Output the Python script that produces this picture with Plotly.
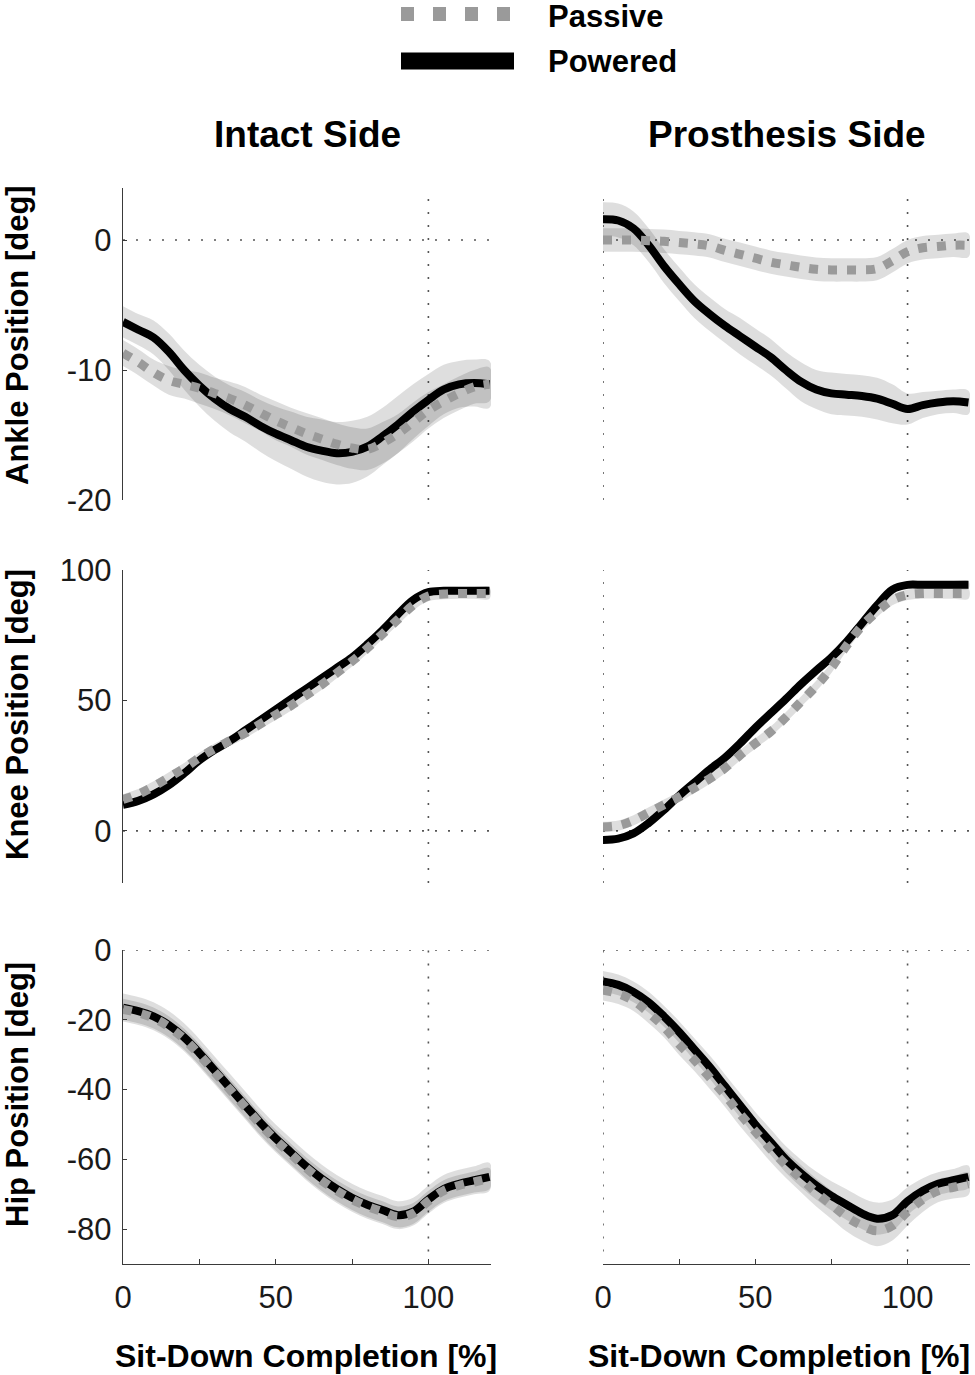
import plotly.graph_objects as go

W, H = 975, 1375

# ---------------- data ----------------
pct = [0, 5, 10, 15, 20, 25, 30, 35, 40, 45, 50, 55, 60, 65, 70, 75, 80, 85, 90, 95, 100, 105, 110, 115, 120]

ankle_intact_powered = [-6.3, -6.9, -7.5, -8.6, -10.0, -11.2, -12.2, -13.0, -13.6, -14.3, -14.9, -15.4, -15.9,
                        -16.2, -16.4, -16.3, -15.9, -15.1, -14.2, -13.2, -12.3, -11.5, -11.1, -11.0, -11.1]
ankle_intact_powered_sd = [1.2, 1.2, 1.3, 1.4, 1.5, 1.6, 1.7, 1.8, 1.9, 2.0, 2.1, 2.2, 2.3,
                           2.4, 2.4, 2.4, 2.3, 2.2, 2.2, 2.1, 2.0, 1.9, 1.8, 1.8, 1.8]
ankle_intact_passive = [-8.7, -9.4, -10.2, -10.8, -11.1, -11.4, -11.8, -12.2, -12.7, -13.3, -13.9, -14.4, -14.9,
                        -15.3, -15.7, -16.0, -16.1, -15.6, -14.9, -14.0, -13.1, -12.4, -11.8, -11.3, -11.1]
ankle_intact_passive_sd = [1.0, 1.0, 1.0, 1.1, 1.1, 1.2, 1.2, 1.3, 1.4, 1.4, 1.5, 1.5, 1.6,
                           1.6, 1.6, 1.6, 1.6, 1.6, 1.5, 1.5, 1.4, 1.3, 1.3, 1.3, 1.3]

ankle_pros_powered = [1.6, 1.5, 0.9, -0.4, -2.0, -3.4, -4.7, -5.7, -6.6, -7.4, -8.2, -9.0, -10.0,
                      -10.9, -11.5, -11.8, -11.9, -12.0, -12.2, -12.6, -13.0, -12.7, -12.5, -12.4, -12.5]
ankle_pros_powered_sd = [1.3, 1.3, 1.3, 1.3, 1.3, 1.3, 1.3, 1.3, 1.3, 1.4, 1.4, 1.4, 1.4,
                         1.5, 1.5, 1.6, 1.6, 1.6, 1.6, 1.5, 1.2, 1.0, 0.9, 0.9, 0.9]
ankle_pros_passive = [0.0, 0.0, 0.0, -0.05, -0.1, -0.2, -0.3, -0.45, -0.8, -1.1, -1.4, -1.7, -1.9,
                      -2.1, -2.25, -2.3, -2.3, -2.3, -2.2, -1.6, -0.9, -0.6, -0.5, -0.4, -0.4]
ankle_pros_passive_sd = [0.9] * 25

knee_intact_powered = [10, 11.5, 14, 17.5, 22, 27, 31, 34.5, 38.5, 42.5, 46.5, 50.5, 54.5,
                       58.5, 62.5, 66.5, 71.5, 77, 83, 88.5, 91.5, 92, 92, 92, 92]
knee_intact_powered_sd = [1.5] * 25
knee_intact_passive = [12, 14, 17, 20.5, 24, 28, 31.5, 34.5, 37.5, 41, 44.5, 48, 52,
                       56, 60.5, 65, 70, 75.5, 81, 86.5, 90, 90.8, 91, 91, 91]
knee_intact_passive_sd = [2.0] * 25

knee_pros_powered = [-3.5, -3, -1, 3, 8, 13.5, 18.5, 23.5, 28, 33.5, 39.5, 45, 50.5,
                     56.2, 61.5, 66.5, 72.5, 79.5, 86.5, 92.5, 94.3, 94.3, 94.3, 94.3, 94.3]
knee_pros_powered_sd = [1.5] * 25
knee_pros_passive = [1.5, 2, 4, 7, 10, 13, 16.5, 20, 24, 29, 33.5, 38, 43.5,
                     49.5, 55.5, 62.5, 71, 78.5, 84, 88.5, 90.5, 91, 91, 91, 91]
knee_pros_passive_sd = [2.0] * 25

hip_intact_powered = [-16.5, -17.5, -19, -21.5, -25, -29.5, -34.5, -39.5, -44.5, -49.5, -54, -58, -62,
                      -65.5, -68.5, -71, -73, -74.5, -76, -75, -71.5, -68.5, -67, -66, -65]
hip_intact_powered_sd = [4.0] * 25
hip_intact_passive = [-17, -18, -19.5, -22, -25.5, -30, -35, -40, -45, -50, -54.5, -58.5, -62.5,
                      -66, -69, -71.5, -73.5, -75, -76.5, -75.5, -72, -69, -67.5, -66.5, -65.5]
hip_intact_passive_sd = [3.0] * 25

hip_pros_powered = [-9, -10, -12, -15, -19, -23.5, -28.5, -33.5, -39, -44.5, -50, -55, -60,
                    -64, -67.5, -70.5, -73, -75.5, -77, -76, -72, -69, -67, -66, -65]
hip_pros_powered_sd = [3.0, 3.0, 3.0, 3.0, 3.0, 3.1, 3.2, 3.3, 3.4, 3.5, 3.6, 3.7, 3.8,
                       3.9, 4.0, 4.2, 4.4, 4.5, 4.6, 4.5, 4.0, 3.6, 3.3, 3.2, 3.2]
hip_pros_passive = [-11.5, -12.5, -14.5, -18, -22, -27, -31.5, -36.5, -41.5, -47, -52, -57, -61.5,
                    -65.5, -69.5, -73, -76.5, -79, -80.5, -79, -75, -71.5, -69, -68, -67]
hip_pros_passive_sd = [3.0, 3.0, 3.0, 3.0, 3.0, 3.1, 3.2, 3.3, 3.4, 3.5, 3.6, 3.7, 3.8,
                       3.9, 4.0, 4.1, 4.2, 4.3, 4.4, 4.3, 4.0, 3.6, 3.3, 3.2, 3.2]

column_titles = ["Intact Side", "Prosthesis Side"]
row_titles = ["Ankle Position [deg]", "Knee Position [deg]", "Hip Position [deg]"]
x_title = "Sit-Down Completion [%]"
legend_names = ["Passive", "Powered"]

x_ticks = [0, 25, 50, 75, 100]
x_ticktext = ["0", "", "50", "", "100"]
y_ticks = [[-20, -10, 0], [0, 50, 100], [-80, -60, -40, -20, 0]]
y_ticktext = [["-20", "-10", "0"], ["0", "50", "100"], ["-80", "-60", "-40", "-20", "0"]]
y_ranges = [[-20, 4], [-20, 100], [-90, 0]]

panels = [
    [(ankle_intact_passive, ankle_intact_passive_sd, ankle_intact_powered, ankle_intact_powered_sd),
     (ankle_pros_passive, ankle_pros_passive_sd, ankle_pros_powered, ankle_pros_powered_sd)],
    [(knee_intact_passive, knee_intact_passive_sd, knee_intact_powered, knee_intact_powered_sd),
     (knee_pros_passive, knee_pros_passive_sd, knee_pros_powered, knee_pros_powered_sd)],
    [(hip_intact_passive, hip_intact_passive_sd, hip_intact_powered, hip_intact_powered_sd),
     (hip_pros_passive, hip_pros_passive_sd, hip_pros_powered, hip_pros_powered_sd)],
]

# ---------------- layout geometry (pixels) ----------------
def fx(p):
    return p / W

def fy(p):
    return 1 - p / H

col_px = [(123, 491), (603, 970)]
row_px = [(188, 500), (570, 883), (950, 1264)]

FONT = "Liberation Sans, Arial, sans-serif"
TXT = "#1a1a1a"
AX = "#3a3a3a"
PASSIVE_COLOR = "#9a9a9a"
POWERED_COLOR = "#000000"
BAND = "rgba(0,0,0,0.13)"
DOT_REF = dict(color="#555555", width=1.6, dash="2px,11px")

fig = go.Figure()
shapes = []
annotations = []

for r in range(3):
    for c in range(2):
        i = r * 2 + c + 1
        xa = "x" if i == 1 else f"x{i}"
        ya = "y" if i == 1 else f"y{i}"
        pas, pas_sd, pow_, pow_sd = panels[r][c]
        # std bands
        for m, s in ((pas, pas_sd), (pow_, pow_sd)):
            up = [a + b for a, b in zip(m, s)]
            lo = [a - b for a, b in zip(m, s)]
            fig.add_trace(go.Scatter(
                x=pct + pct[::-1], y=up + lo[::-1], fill="toself", fillcolor=BAND,
                line=dict(width=0, shape="spline"), mode="lines", hoverinfo="skip",
                showlegend=False, xaxis=xa, yaxis=ya))
        # powered (solid black)
        fig.add_trace(go.Scatter(
            x=pct, y=pow_, mode="lines", name=legend_names[1],
            line=dict(color=POWERED_COLOR, width=8, shape="spline"),
            showlegend=False, xaxis=xa, yaxis=ya))
        # passive (dotted gray) on top
        fig.add_trace(go.Scatter(
            x=pct, y=pas, mode="lines", name=legend_names[0],
            line=dict(color=PASSIVE_COLOR, width=9, dash="9px,10px", shape="spline"),
            showlegend=False, xaxis=xa, yaxis=ya))

        x0p, x1p = col_px[c]
        y0p, y1p = row_px[r]
        xkey = "xaxis" if i == 1 else f"xaxis{i}"
        ykey = "yaxis" if i == 1 else f"yaxis{i}"
        bottom = (r == 2)
        left = (c == 0)
        fig.layout[xkey] = dict(
            domain=[fx(x0p), fx(x1p)], anchor=ya, range=[0, 120.5], automargin=False,
            showgrid=False, zeroline=False, showline=bottom, linecolor=AX, linewidth=1.4,
            ticks="inside" if bottom else "", ticklen=5, tickcolor=AX, tickwidth=1.2,
            tickvals=x_ticks, ticktext=x_ticktext, showticklabels=bottom,
            tickfont=dict(family=FONT, size=31, color=TXT), ticklabelstandoff=6,
        )
        fig.layout[ykey] = dict(
            domain=[fy(y1p), fy(y0p)], anchor=xa, range=y_ranges[r], automargin=False,
            showgrid=False, zeroline=False, showline=left, linecolor=AX, linewidth=1.4,
            ticks="inside" if left else "", ticklen=4, tickcolor=AX, tickwidth=1.2,
            tickvals=y_ticks[r], ticktext=y_ticktext[r], showticklabels=left,
            tickfont=dict(family=FONT, size=31, color=TXT), ticklabelstandoff=4,
        )
        # dotted reference lines at x=100, y=0 (and x=0 on the right column)
        shapes.append(dict(type="line", xref=xa, yref=f"{ya} domain", x0=100, x1=100,
                           y0=0.04 if bottom else 0, y1=1, line=DOT_REF, layer="below"))
        shapes.append(dict(type="line", xref=f"{xa} domain", yref=ya, x0=0, x1=1,
                           y0=0, y1=0, line=DOT_REF, layer="below"))
        if not left:
            shapes.append(dict(type="line", xref=xa, yref=f"{ya} domain", x0=0, x1=0,
                               y0=0.04 if bottom else 0, y1=1, line=DOT_REF, layer="below"))

# column titles and x-axis titles
x_title_pos = [(306, "center"), (972, "right")]
for c, t in enumerate(column_titles):
    x0p, x1p = col_px[c]
    annotations.append(dict(text=t, x=fx((x0p + x1p) / 2), y=fy(135), xref="paper", yref="paper",
                            xanchor="center", yanchor="middle", showarrow=False,
                            font=dict(family=FONT, size=37, color="#000", weight="bold")))
    xp, anc = x_title_pos[c]
    annotations.append(dict(text=x_title, x=fx(xp), y=fy(1356), xref="paper", yref="paper",
                            xanchor=anc, yanchor="middle", showarrow=False,
                            font=dict(family=FONT, size=32, color="#000", weight="bold")))

# row (y-axis) titles
row_centers = [335, 715, 1095]
for r, t in enumerate(row_titles):
    annotations.append(dict(text=t, x=fx(17), y=fy(row_centers[r]), xref="paper", yref="paper",
                            xanchor="center", yanchor="middle", textangle=-90, showarrow=False,
                            font=dict(family=FONT, size=31, color="#000", weight="bold")))

# legend (drawn manually with long line samples)
legend_y = [16, 61]
shapes.append(dict(type="line", xref="paper", yref="paper", x0=fx(401), x1=fx(516),
                   y0=fy(legend_y[0] - 2), y1=fy(legend_y[0] - 2),
                   line=dict(color=PASSIVE_COLOR, width=14, dash="13px,19px")))
shapes.append(dict(type="line", xref="paper", yref="paper", x0=fx(401), x1=fx(514),
                   y0=fy(legend_y[1]), y1=fy(legend_y[1]),
                   line=dict(color=POWERED_COLOR, width=17)))
for name, yp in zip(legend_names, legend_y):
    annotations.append(dict(text=name, x=fx(546), y=fy(yp), xref="paper", yref="paper",
                            xanchor="left", yanchor="middle", showarrow=False,
                            font=dict(family=FONT, size=31, color="#000", weight="bold")))

fig.update_layout(
    width=W, height=H, margin=dict(l=0, r=0, t=0, b=0, autoexpand=False),
    paper_bgcolor="white", plot_bgcolor="white", showlegend=False,
    shapes=shapes, annotations=annotations,
)

fig.write_html("out.html", config={"displayModeBar": False},
               post_script="document.body.style.margin='0';document.body.style.padding='0';")
